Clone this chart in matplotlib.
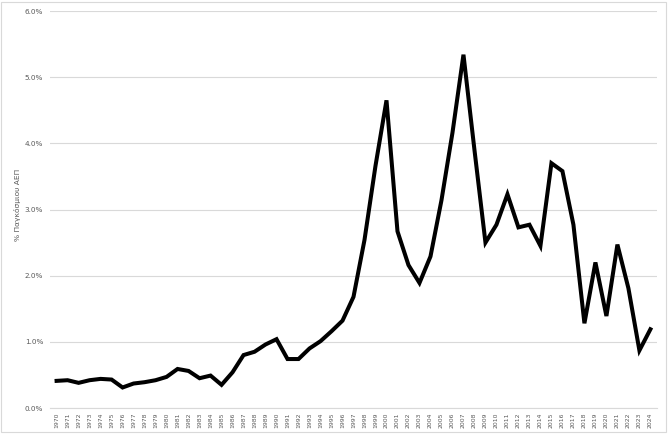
import numpy as np
import matplotlib.pyplot as plt
from matplotlib.patches import Rectangle
from matplotlib.ticker import FuncFormatter

# Years and share of world GDP (%)
years = list(range(1970, 2025))
share = [0.41, 0.42, 0.38, 0.42, 0.44, 0.43, 0.31, 0.37, 0.39, 0.42,
         0.47, 0.59, 0.56, 0.45, 0.49, 0.35, 0.54, 0.80, 0.85, 0.96,
         1.04, 0.74, 0.74, 0.90, 1.01, 1.16, 1.32, 1.68, 2.54, 3.66,
         4.65, 2.67, 2.16, 1.89, 2.29, 3.14, 4.16, 5.34, 3.90, 2.50,
         2.77, 3.23, 2.73, 2.77, 2.45, 3.70, 3.58, 2.77, 1.28, 2.20,
         1.39, 2.47, 1.81, 0.87, 1.19]
y_ticks = [0, 1, 2, 3, 4, 5, 6]
y_label = '% Παγκόσμιου ΑΕΠ'

plt.rcParams['font.family'] = ['DejaVu Sans']

fig = plt.figure(figsize=(6.68, 4.36), dpi=100)
ax = fig.add_axes([50 / 668, 1 - 408 / 436, 607 / 668, 397 / 436])

x = np.arange(len(years))
ax.plot(x, share, color='black', linewidth=2.9, solid_joinstyle='miter')

ax.set_xlim(-0.6, len(years) - 0.4)
ax.set_ylim(0, 6)
ax.set_yticks(y_ticks)
ax.yaxis.set_major_formatter(FuncFormatter(lambda v, p: f'{v:.1f}%'))
ax.set_xticks(x)
ax.set_xticklabels([str(y) for y in years], rotation=90)

ax.grid(axis='y', color='#d9d9d9', linewidth=0.8)
ax.set_axisbelow(True)
for s in ['top', 'right', 'left']:
    ax.spines[s].set_visible(False)
ax.spines['bottom'].set_color('#d9d9d9')
ax.spines['bottom'].set_linewidth(0.8)
ax.tick_params(axis='both', length=0, colors='#595959')
ax.tick_params(axis='y', labelsize=5.2, pad=5)
ax.tick_params(axis='x', labelsize=4.4, pad=3)

fig.text(18 / 668, 1 - 205 / 436, y_label, rotation=90, ha='center', va='center',
         fontsize=5.4, color='#595959')

# light frame around the chart
fig.patches.append(Rectangle((1 / 668, 1 - 432 / 436), 665 / 668, 430 / 436,
                             transform=fig.transFigure, fill=False,
                             edgecolor='#d9d9d9', linewidth=0.8))

fig.savefig('out.png', dpi=100)
